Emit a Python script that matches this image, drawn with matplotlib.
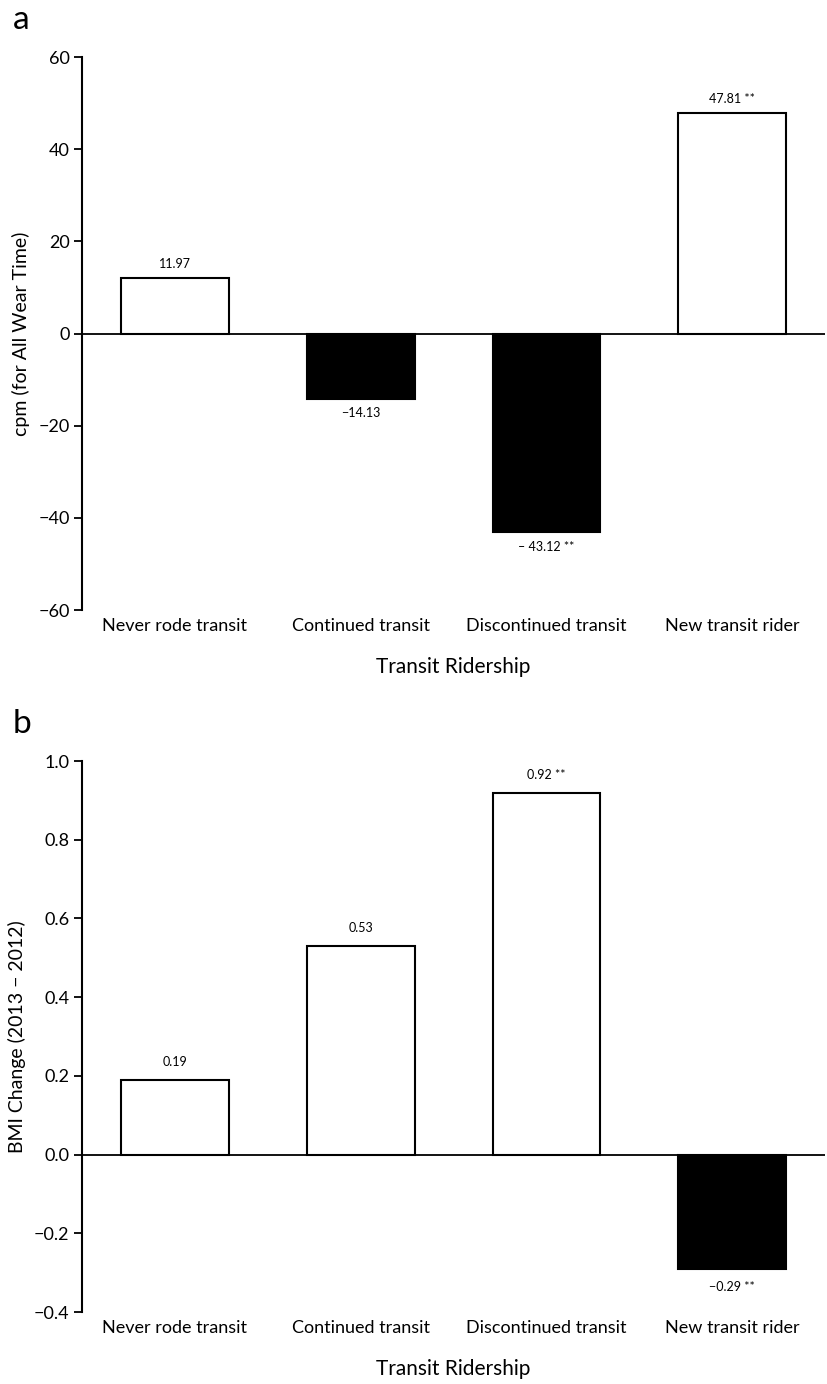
import matplotlib
matplotlib.use("Agg")
import matplotlib.pyplot as plt

plt.rcParams['font.family'] = ['Lato', 'DejaVu Sans']

# data
categories = ["Never rode transit", "Continued transit", "Discontinued transit", "New transit rider"]
cpm_values = [11.97, -14.13, -43.12, 47.81]
cpm_labels = ["11.97", "\u221214.13", "\u2013 43.12 **", "47.81 **"]
bmi_values = [0.19, 0.53, 0.92, -0.29]
bmi_labels = ["0.19", "0.53", "0.92 **", "\u22120.29 **"]

cpm_ticks = [-60, -40, -20, 0, 20, 40, 60]
bmi_ticks = [-0.4, -0.2, 0.0, 0.2, 0.4, 0.6, 0.8, 1.0]

fig = plt.figure(figsize=(8.27, 13.84), dpi=100)
ax_a = fig.add_axes([0.0992, 0.5592, 0.8984, 0.3996])
ax_b = fig.add_axes([0.0992, 0.0520, 0.8984, 0.3981])


def draw_panel(ax, values, labels, ticks, ylabel, tick_fmt, offset):
    x = list(range(len(values)))
    colors = ['white' if v >= 0 else 'black' for v in values]
    ax.bar(x, values, width=0.58, color=colors, edgecolor='black', linewidth=1.5, zorder=3)
    ax.axhline(0, color='black', linewidth=1.3, zorder=4)
    for xi, v, lab in zip(x, values, labels):
        if v >= 0:
            ax.text(xi, v + offset, lab, ha='center', va='bottom', fontsize=9)
        else:
            ax.text(xi, v - offset, lab, ha='center', va='top', fontsize=9)
    ax.set_xlim(-0.5, 3.5)
    ax.set_ylim(ticks[0], ticks[-1])
    ax.set_yticks(ticks)
    ax.set_yticklabels([tick_fmt(t) for t in ticks], fontsize=13)
    ax.set_xticks(x)
    ax.set_xticklabels(categories, fontsize=13)
    ax.tick_params(axis='x', length=0, pad=6)
    ax.tick_params(axis='y', length=6, width=1.3, direction='out', pad=3)
    for s in ['top', 'right', 'bottom']:
        ax.spines[s].set_visible(False)
    ax.spines['left'].set_linewidth(1.5)
    ax.set_ylabel(ylabel, fontsize=14, labelpad=6)
    ax.set_xlabel("Transit Ridership", fontsize=15, labelpad=16)


draw_panel(ax_a, cpm_values, cpm_labels, cpm_ticks, "cpm (for All Wear Time)",
           lambda t: f"{t:d}".replace('-', '\u2212'), 1.8)
draw_panel(ax_b, bmi_values, bmi_labels, bmi_ticks, "BMI Change (2013 \u2212 2012)",
           lambda t: f"{t:.1f}".replace('-', '\u2212'), 0.03)

fig.text(0.015, 1 - 20 / 1384, "a", fontsize=24, va='center', ha='left')
fig.text(0.015, 1 - 724 / 1384, "b", fontsize=24, va='center', ha='left')

fig.savefig("out.png", dpi=100)
